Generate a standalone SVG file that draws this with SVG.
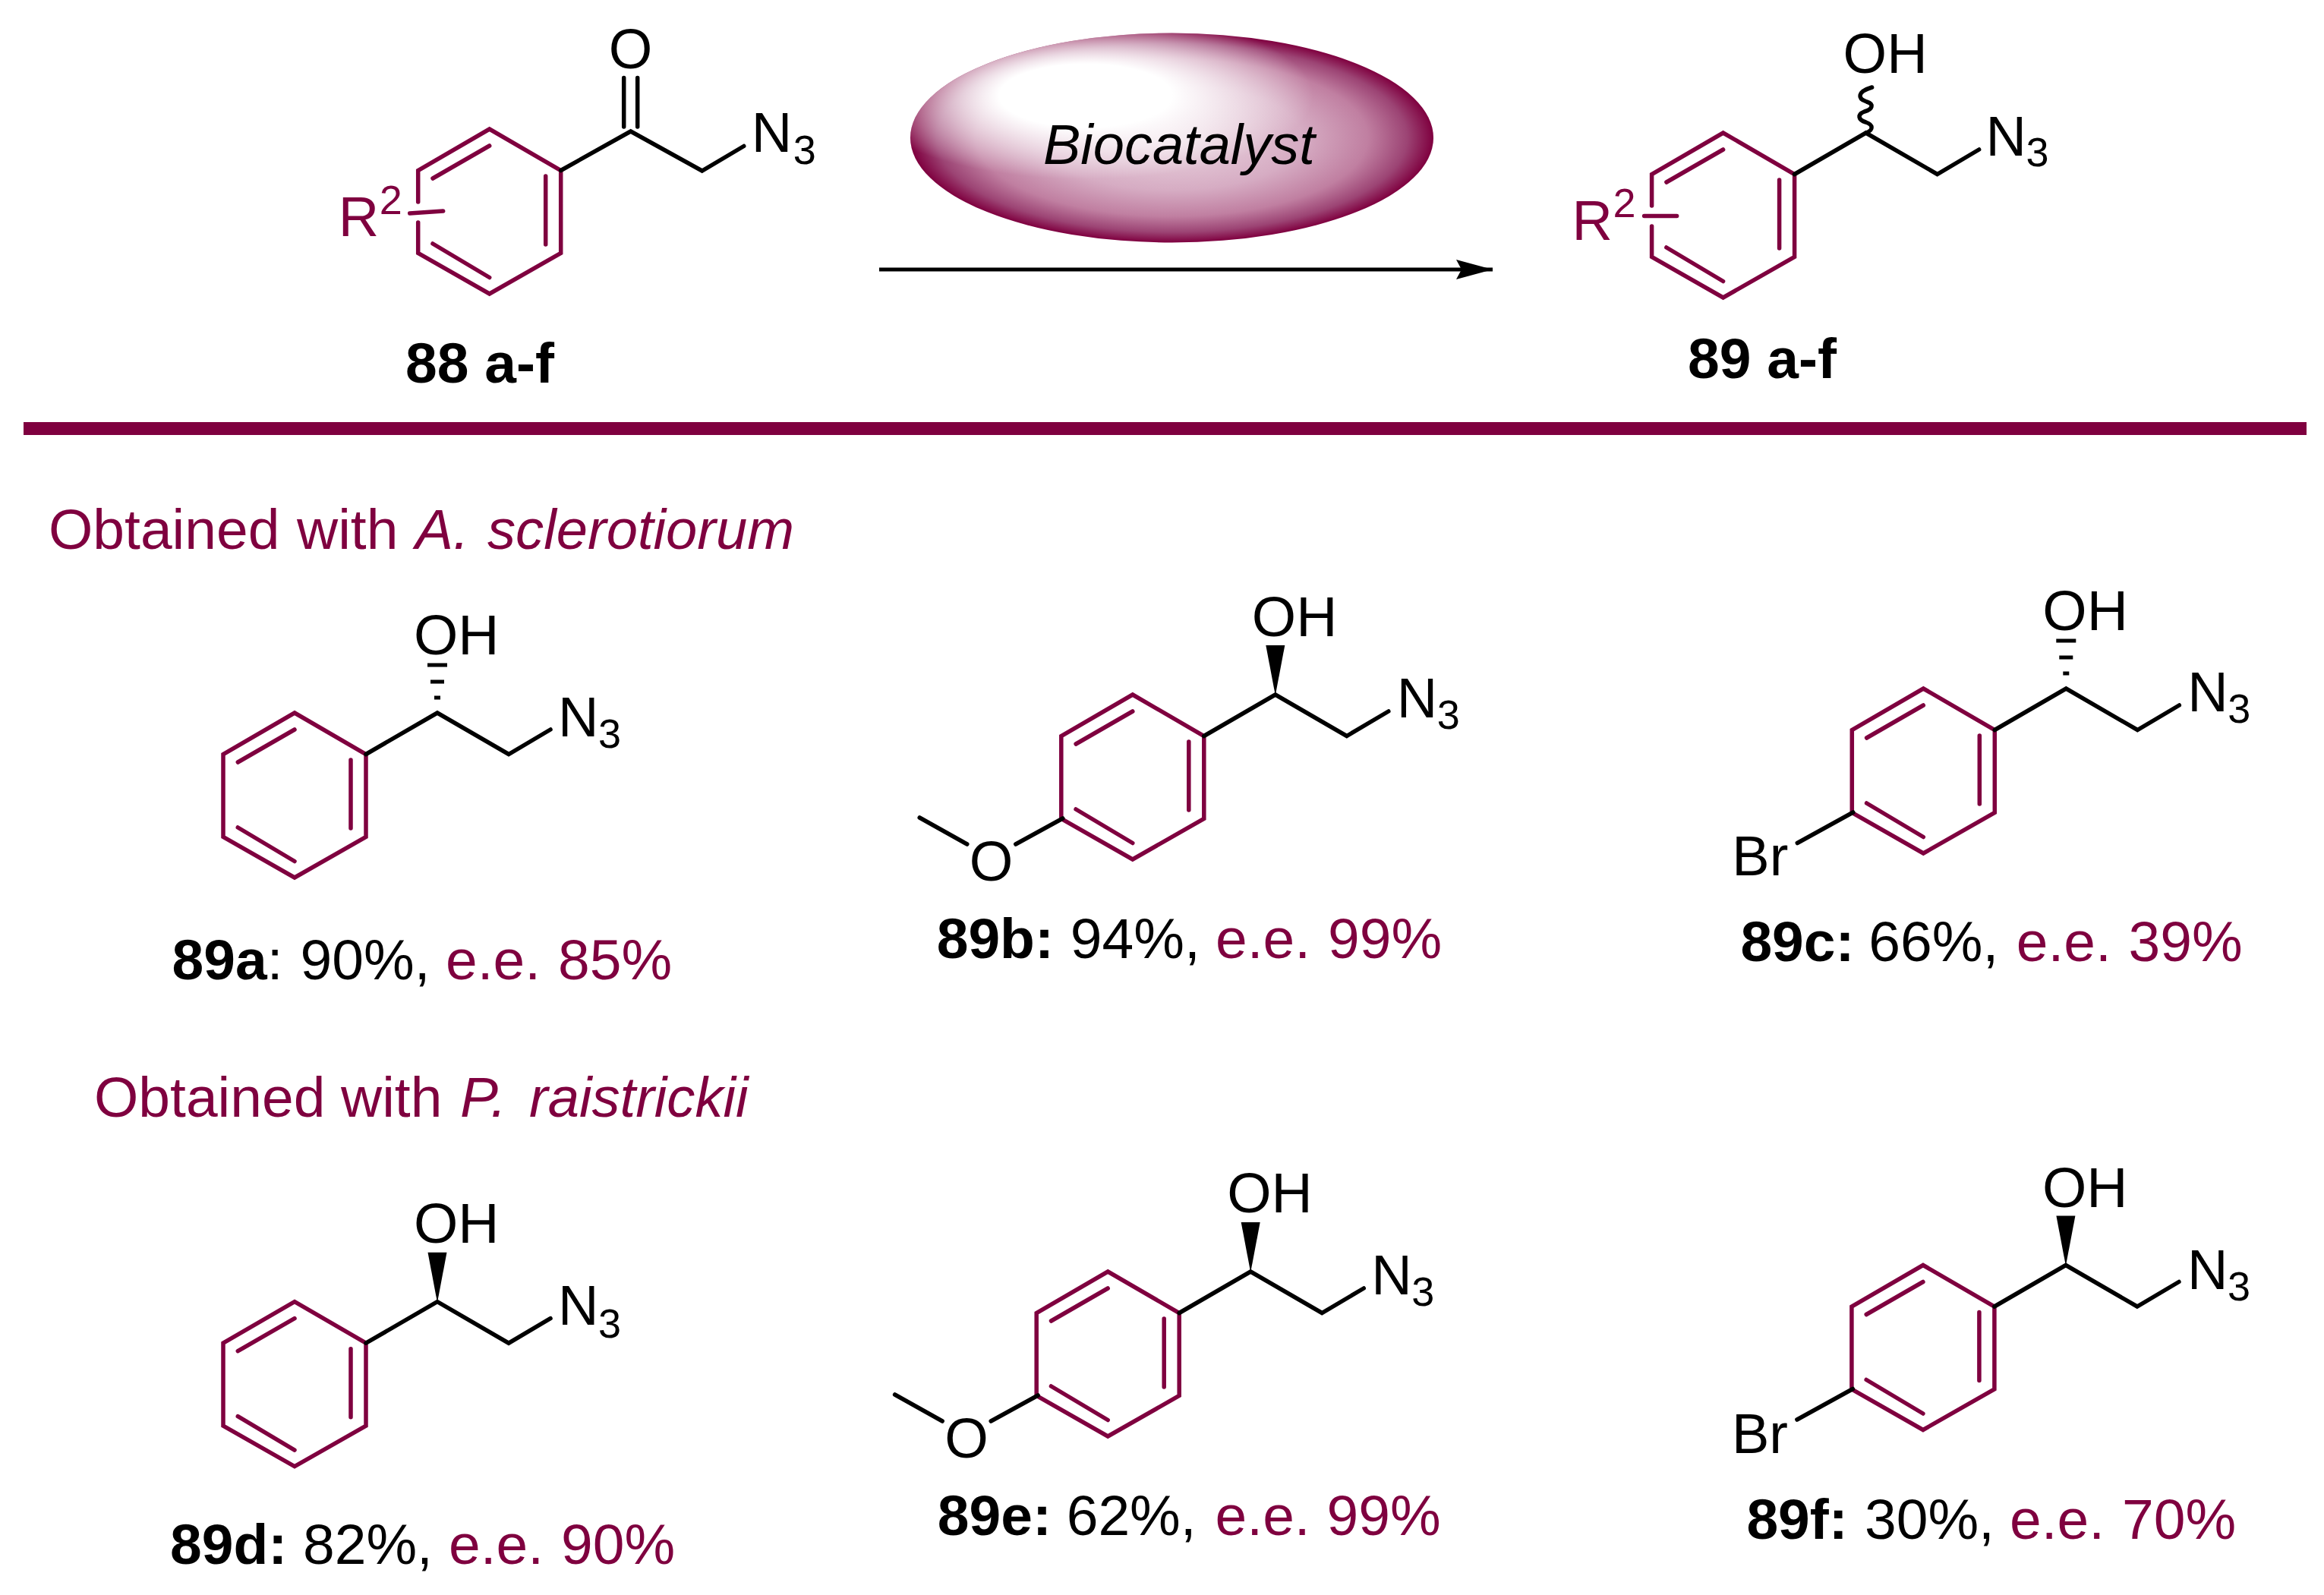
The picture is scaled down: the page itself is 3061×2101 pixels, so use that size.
<svg xmlns="http://www.w3.org/2000/svg" width="3061" height="2101" viewBox="0 0 3061 2101">
<style>
text{font-family:"Liberation Sans",Arial,sans-serif;font-size:74px;fill:#000}
.sub{font-size:54px}
.m{fill:#7f003f}
.lab{font-size:75px}
.oh{font-size:75px}
.b{font-weight:bold}
.i{font-style:italic}
.hi{font-size:74.2px}
.ring{fill:none;stroke:#7f003f;stroke-width:5.5;stroke-linejoin:miter;stroke-linecap:round}
.bond{fill:none;stroke:#000;stroke-width:5.5;stroke-linejoin:miter;stroke-linecap:round}
.hash{stroke:#000;stroke-width:5;fill:none}
</style>
<defs>
<radialGradient id="gloss" cx="0.5" cy="0.5" r="0.5">
<stop offset="0" stop-color="#ecd8e2"/>
<stop offset="0.5" stop-color="#d6acc3"/>
<stop offset="0.75" stop-color="#c07fa1"/>
<stop offset="0.9" stop-color="#9c4474"/>
<stop offset="1" stop-color="#7f003f"/>
</radialGradient>
<radialGradient id="shine" cx="0.5" cy="0.5" r="0.5">
<stop offset="0.38" stop-color="#fff" stop-opacity="1"/>
<stop offset="1" stop-color="#fff" stop-opacity="0"/>
</radialGradient>
<clipPath id="oval"><ellipse cx="1543.5" cy="181.5" rx="344.5" ry="138"/></clipPath>
<marker id="head" markerUnits="userSpaceOnUse" markerWidth="50" markerHeight="28" refX="48" refY="14" orient="auto">
<path d="M0 1L48 14L0 27L7 14Z" fill="#000"/>
</marker>
<g id="inner"><path class="ring" d="M-74.7 65L0 22M74 62V152M-74.7 151L0 195.5"/></g>
<g id="ring"><path class="ring" d="M0 0L94 54.5V163.5L0 217L-94 163.5V54.5Z"/><use href="#inner"/></g>
<g id="ring-open"><path class="ring" d="M-94 96V54.5L0 0L94 54.5V163.5L0 217L-94 163.5V123"/><use href="#inner"/></g>
<path id="chain" class="bond" d="M94 54.5L188 0L282 54.5L337 22"/>
<path id="wedge" d="M188 1L175.5 -65H200.5Z" fill="#000"/>
<g id="hashed" class="hash"><path d="M175 -63H201M179 -41H197M184 -20H192"/></g>
</defs>
<rect width="3061" height="2101" fill="#fff"/>

<g id="connectors">
<line x1="1158" y1="355" x2="1966" y2="355" stroke="#000" stroke-width="5" marker-end="url(#head)"/>
</g>

<g id="separator"><rect x="31" y="556" width="3007" height="17" fill="#7f003f"/></g>

<g id="catalyst">
<ellipse cx="1543.5" cy="181.5" rx="344.5" ry="138" fill="url(#gloss)"/>
<ellipse cx="1430" cy="126" rx="300" ry="110" fill="url(#shine)" clip-path="url(#oval)"/>
<text class="i" x="1374" y="216">Biocatalyst</text>
</g>

<g id="compound-88">
<g transform="translate(644.7 170)">
<use href="#ring-open"/>
<path class="ring" d="M-105 111L-61 108"/>
<path class="bond" d="M94 54.5L186 3L280 55L335 22.5M177 -67.5V-3M195 -67.5V-3"/>
<text x="157" y="-80">O</text>
<text x="345" y="30">N</text><text class="sub" x="400" y="46">3</text>
<text class="m" x="-199" y="141">R</text><text class="m sub" x="-145" y="112">2</text>
</g>
<text class="lab b" x="534" y="504">88 a-f</text>
</g>

<g id="compound-89">
<g transform="translate(2269.6 175)">
<use href="#ring-open"/>
<path class="ring" d="M-104 109.4H-61"/>
<use href="#chain"/>
<path class="bond" d="M188 0C199 -4 197 -11 188 -14C178 -17 176 -24 186 -28C197 -31 199 -38 189 -41C177 -45 176 -54 196 -60"/>
<text x="158" y="-79">OH</text>
<text x="346" y="30">N</text><text class="sub" x="399" y="44">3</text>
<text class="m" x="-199" y="141">R</text><text class="m sub" x="-145" y="111">2</text>
</g>
<text class="lab b" x="2223" y="498">89 a-f</text>
</g>

<g id="heading-a"><text class="m lab" y="723"><tspan x="64">Obtained </tspan><tspan x="391">with </tspan><tspan class="i" x="547">A. </tspan><tspan class="i hi" x="642">sclerotiorum</tspan></text></g>

<g id="compound-89a">
<g transform="translate(388 939)">
<use href="#ring"/><use href="#chain"/><use href="#hashed"/>
<text class="oh" x="157" y="-77">OH</text>
<text x="347" y="31">N</text><text class="sub" x="400" y="46">3</text>
</g>
<text class="lab" y="1290"><tspan class="b" x="226.6">89a</tspan><tspan>: </tspan><tspan x="395.6">90%, </tspan><tspan class="m" x="587">e.e. </tspan><tspan class="m" x="735">85%</tspan></text>
</g>

<g id="compound-89b">
<g transform="translate(1491.8 915)">
<use href="#ring"/><use href="#chain"/><use href="#wedge"/>
<path class="bond" d="M-92 163L-154 197M-218 197L-280.6 162"/>
<text class="oh" x="157" y="-77">OH</text>
<text x="348" y="30">N</text><text class="sub" x="401" y="45">3</text>
<text x="-215" y="245">O</text>
</g>
<text class="lab" y="1262"><tspan class="b" x="1233.7">89b: </tspan><tspan x="1409.8">94%, </tspan><tspan class="m" x="1601">e.e. </tspan><tspan class="m" x="1749">99%</tspan></text>
</g>

<g id="compound-89c">
<g transform="translate(2533.3 907)">
<use href="#ring"/><use href="#chain"/><use href="#hashed"/>
<path class="bond" d="M-92.5 163L-166 203.5"/>
<text class="oh" x="157" y="-77">OH</text>
<text x="348" y="30">N</text><text class="sub" x="401" y="45">3</text>
<text x="-252" y="246">Br</text>
</g>
<text class="lab" y="1266"><tspan class="b" x="2292.4">89c: </tspan><tspan x="2461.3">66%, </tspan><tspan class="m" x="2655.8">e.e. </tspan><tspan class="m" x="2803.5">39%</tspan></text>
</g>

<g id="heading-b"><text class="m lab" y="1470.5"><tspan x="124">Obtained </tspan><tspan x="449">with </tspan><tspan class="i" x="606">P. </tspan><tspan class="i hi" x="697">raistrickii</tspan></text></g>

<g id="compound-89d">
<g transform="translate(388 1714.7)">
<use href="#ring"/><use href="#chain"/><use href="#wedge"/>
<text class="oh" x="157" y="-78">OH</text>
<text x="347" y="30">N</text><text class="sub" x="400" y="47">3</text>
</g>
<text class="lab" y="2060"><tspan class="b" x="224">89d: </tspan><tspan x="399">82%, </tspan><tspan class="m" x="591">e.e. </tspan><tspan class="m" x="739">90%</tspan></text>
</g>

<g id="compound-89e">
<g transform="translate(1459.2 1675)">
<use href="#ring"/><use href="#chain"/><use href="#wedge"/>
<path class="bond" d="M-92 163L-154 197M-218 197L-280.6 162"/>
<text class="oh" x="157" y="-78">OH</text>
<text x="347" y="30">N</text><text class="sub" x="400" y="45">3</text>
<text x="-215" y="245">O</text>
</g>
<text class="lab" y="2022.4"><tspan class="b" x="1234.8">89e: </tspan><tspan x="1404.7">62%, </tspan><tspan class="m" x="1600.6">e.e. </tspan><tspan class="m" x="1747.5">99%</tspan></text>
</g>

<g id="compound-89f">
<g transform="translate(2532.9 1666.5)">
<use href="#ring"/><use href="#chain"/><use href="#wedge"/>
<path class="bond" d="M-92.5 163L-166 203.5"/>
<text class="oh" x="157" y="-77">OH</text>
<text x="348" y="31">N</text><text class="sub" x="401" y="46">3</text>
<text x="-252" y="247">Br</text>
</g>
<text class="lab" y="2027.4"><tspan class="b" x="2300.4">89f: </tspan><tspan x="2456">30%, </tspan><tspan class="m" x="2647">e.e. </tspan><tspan class="m" x="2795">70%</tspan></text>
</g>
</svg>
